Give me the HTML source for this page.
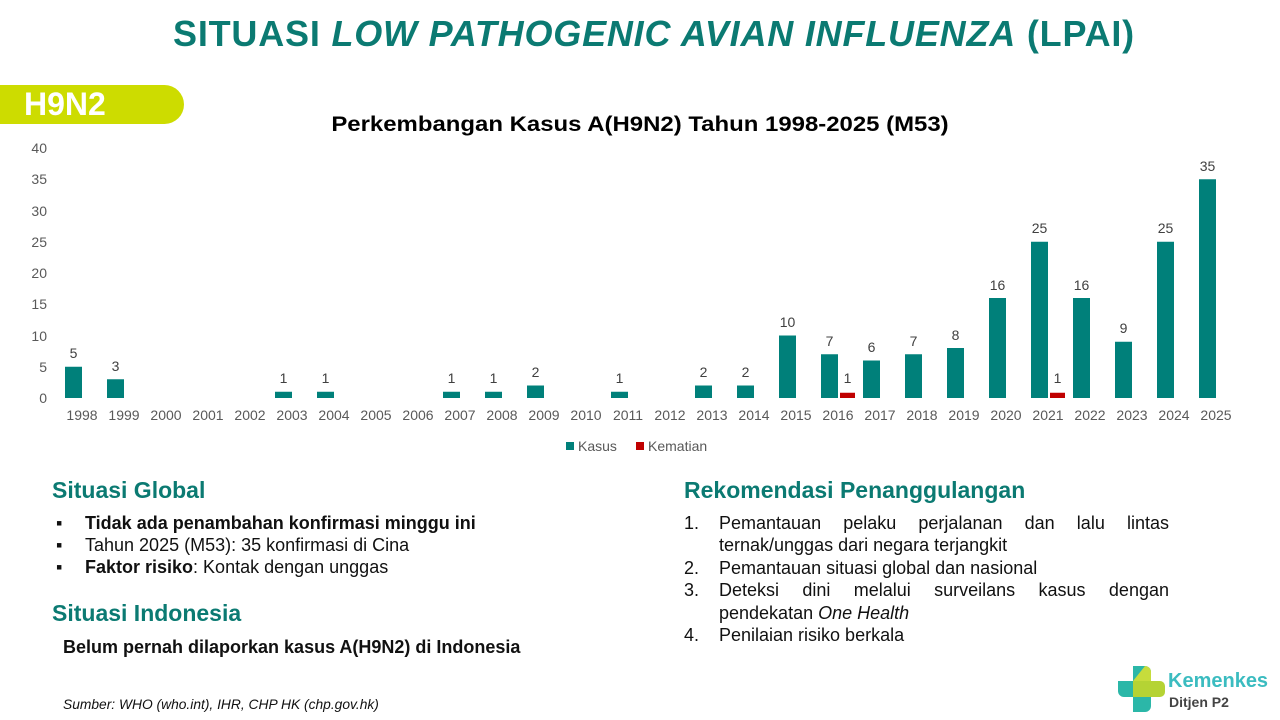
<!DOCTYPE html>
<html><head><meta charset="utf-8"><style>
body{margin:0;width:1280px;height:720px;background:#fff;position:relative;overflow:hidden;font-family:"Liberation Sans",sans-serif}
.a{position:absolute;white-space:nowrap}
.h{color:#0b7a72;font-weight:bold;font-size:23px}
.t{font-size:18px;color:#111}
</style></head><body>
<div class="a" style="left:0;top:13px;width:1308px;text-align:center;color:#0b7a72;font-weight:bold;font-size:36px;letter-spacing:0.8px">SITUASI <i>LOW PATHOGENIC AVIAN INFLUENZA</i> (LPAI)</div>
<div class="a" style="left:0;top:85px;width:184px;height:39px;background:#cddc00;border-radius:0 20px 20px 0"></div>
<div class="a" style="left:24px;top:86px;color:#fff;font-weight:bold;font-size:32px">H9N2</div>
<div class="a" style="left:0;top:113px;width:1280px;text-align:center;font-weight:bold;font-size:21px;color:#000;transform:scaleX(1.14);transform-origin:640px 0">Perkembangan Kasus A(H9N2) Tahun 1998-2025 (M53)</div>
<svg class="a" style="left:0;top:0" width="1280" height="470" font-family="Liberation Sans, sans-serif">
<g font-size="14" fill="#595959" text-anchor="end">
<text x="47" y="403">0</text><text x="47" y="372">5</text><text x="47" y="341">10</text><text x="47" y="309">15</text><text x="47" y="278">20</text><text x="47" y="247">25</text><text x="47" y="216">30</text><text x="47" y="184">35</text><text x="47" y="153">40</text>
</g>
<g fill="#00807a">
<rect x="65" y="366.75" width="17" height="31.25"/>
<rect x="107" y="379.25" width="17" height="18.75"/>
<rect x="275" y="391.75" width="17" height="6.25"/>
<rect x="317" y="391.75" width="17" height="6.25"/>
<rect x="443" y="391.75" width="17" height="6.25"/>
<rect x="485" y="391.75" width="17" height="6.25"/>
<rect x="527" y="385.5" width="17" height="12.5"/>
<rect x="611" y="391.75" width="17" height="6.25"/>
<rect x="695" y="385.5" width="17" height="12.5"/>
<rect x="737" y="385.5" width="17" height="12.5"/>
<rect x="779" y="335.5" width="17" height="62.5"/>
<rect x="821" y="354.25" width="17" height="43.75"/>
<rect x="863" y="360.5" width="17" height="37.5"/>
<rect x="905" y="354.25" width="17" height="43.75"/>
<rect x="947" y="348" width="17" height="50"/>
<rect x="989" y="298" width="17" height="100"/>
<rect x="1031" y="241.75" width="17" height="156.25"/>
<rect x="1073" y="298" width="17" height="100"/>
<rect x="1115" y="341.75" width="17" height="56.25"/>
<rect x="1157" y="241.75" width="17" height="156.25"/>
<rect x="1199" y="179.25" width="17" height="218.75"/>
</g>
<g fill="#c00000"><rect x="840" y="392.75" width="15" height="5.25"/><rect x="1050" y="392.75" width="15" height="5.25"/></g>
<g font-size="14" fill="#404040" text-anchor="middle">
<text x="73.5" y="358">5</text><text x="115.5" y="371">3</text><text x="283.5" y="383">1</text><text x="325.5" y="383">1</text><text x="451.5" y="383">1</text><text x="493.5" y="383">1</text><text x="535.5" y="377">2</text><text x="619.5" y="383">1</text><text x="703.5" y="377">2</text><text x="745.5" y="377">2</text><text x="787.5" y="327">10</text><text x="829.5" y="346">7</text><text x="847.5" y="383">1</text><text x="871.5" y="352">6</text><text x="913.5" y="346">7</text><text x="955.5" y="340">8</text><text x="997.5" y="290">16</text><text x="1039.5" y="233">25</text><text x="1057.5" y="383">1</text><text x="1081.5" y="290">16</text><text x="1123.5" y="333">9</text><text x="1165.5" y="233">25</text><text x="1207.5" y="171">35</text>
</g>
<g font-size="14" fill="#595959" text-anchor="middle">
<text x="82" y="420">1998</text><text x="124" y="420">1999</text><text x="166" y="420">2000</text><text x="208" y="420">2001</text><text x="250" y="420">2002</text><text x="292" y="420">2003</text><text x="334" y="420">2004</text><text x="376" y="420">2005</text><text x="418" y="420">2006</text><text x="460" y="420">2007</text><text x="502" y="420">2008</text><text x="544" y="420">2009</text><text x="586" y="420">2010</text><text x="628" y="420">2011</text><text x="670" y="420">2012</text><text x="712" y="420">2013</text><text x="754" y="420">2014</text><text x="796" y="420">2015</text><text x="838" y="420">2016</text><text x="880" y="420">2017</text><text x="922" y="420">2018</text><text x="964" y="420">2019</text><text x="1006" y="420">2020</text><text x="1048" y="420">2021</text><text x="1090" y="420">2022</text><text x="1132" y="420">2023</text><text x="1174" y="420">2024</text><text x="1216" y="420">2025</text>
</g>
<rect x="566" y="442" width="8" height="8" fill="#00807a"/><text x="578" y="451" font-size="14" fill="#595959">Kasus</text>
<rect x="636" y="442" width="8" height="8" fill="#c00000"/><text x="648" y="451" font-size="14" fill="#595959">Kematian</text>
</svg>
<div class="a h" style="left:52px;top:477px">Situasi Global</div>
<div class="a t" style="left:56px;top:512px;line-height:22px">
<div><span style="display:inline-block;width:29px">▪</span><b>Tidak ada penambahan konfirmasi minggu ini</b></div>
<div><span style="display:inline-block;width:29px">▪</span>Tahun 2025 (M53): 35 konfirmasi di Cina</div>
<div><span style="display:inline-block;width:29px">▪</span><b>Faktor risiko</b>: Kontak dengan unggas</div>
</div>
<div class="a h" style="left:52px;top:600px">Situasi Indonesia</div>
<div class="a t" style="left:63px;top:637px;font-weight:bold">Belum pernah dilaporkan kasus A(H9N2) di Indonesia</div>
<div class="a" style="left:63px;top:697px;font-size:13.8px;font-style:italic;color:#111">Sumber: WHO (who.int), IHR, CHP HK (chp.gov.hk)</div>
<div class="a h" style="left:684px;top:477px">Rekomendasi Penanggulangan</div>
<div class="a t" style="left:684px;top:512px;width:485px;line-height:22.4px;white-space:normal">
<div style="display:flex"><span style="width:35px;flex:none">1.</span><span style="text-align:justify">Pemantauan pelaku perjalanan dan lalu lintas ternak/unggas dari negara terjangkit</span></div>
<div style="display:flex"><span style="width:35px;flex:none">2.</span><span>Pemantauan situasi global dan nasional</span></div>
<div style="display:flex"><span style="width:35px;flex:none">3.</span><span style="text-align:justify">Deteksi dini melalui surveilans kasus dengan pendekatan <i>One Health</i></span></div>
<div style="display:flex"><span style="width:35px;flex:none">4.</span><span>Penilaian risiko berkala</span></div>
</div>
<svg class="a" style="left:1116px;top:664px" width="50" height="50">
<path d="M17 2 h12 a6 6 0 0 1 6 6 v9 h-18z" fill="#2bb7a8"/>
<path d="M2 17 h15 v16 h-9 a6 6 0 0 1 -6 -6z" fill="#2bb7a8"/>
<path d="M17 33 h18 v9 a6 6 0 0 1 -6 6 h-12z" fill="#2bb7a8"/>
<path d="M17 17 h27 a5 5 0 0 1 5 5 v6 a5 5 0 0 1 -5 5 h-27z" fill="#b5d334"/>
<path d="M29 2 a6 6 0 0 1 6 6 v9 h-18z" fill="#c7dc3c"/>
</svg>
<div class="a" style="left:1168px;top:670px;font-size:20px;font-weight:bold;color:#3bbcc0">Kemenkes</div>
<div class="a" style="left:1169px;top:694px;font-size:14px;font-weight:bold;color:#444">Ditjen P2</div>
</body></html>
